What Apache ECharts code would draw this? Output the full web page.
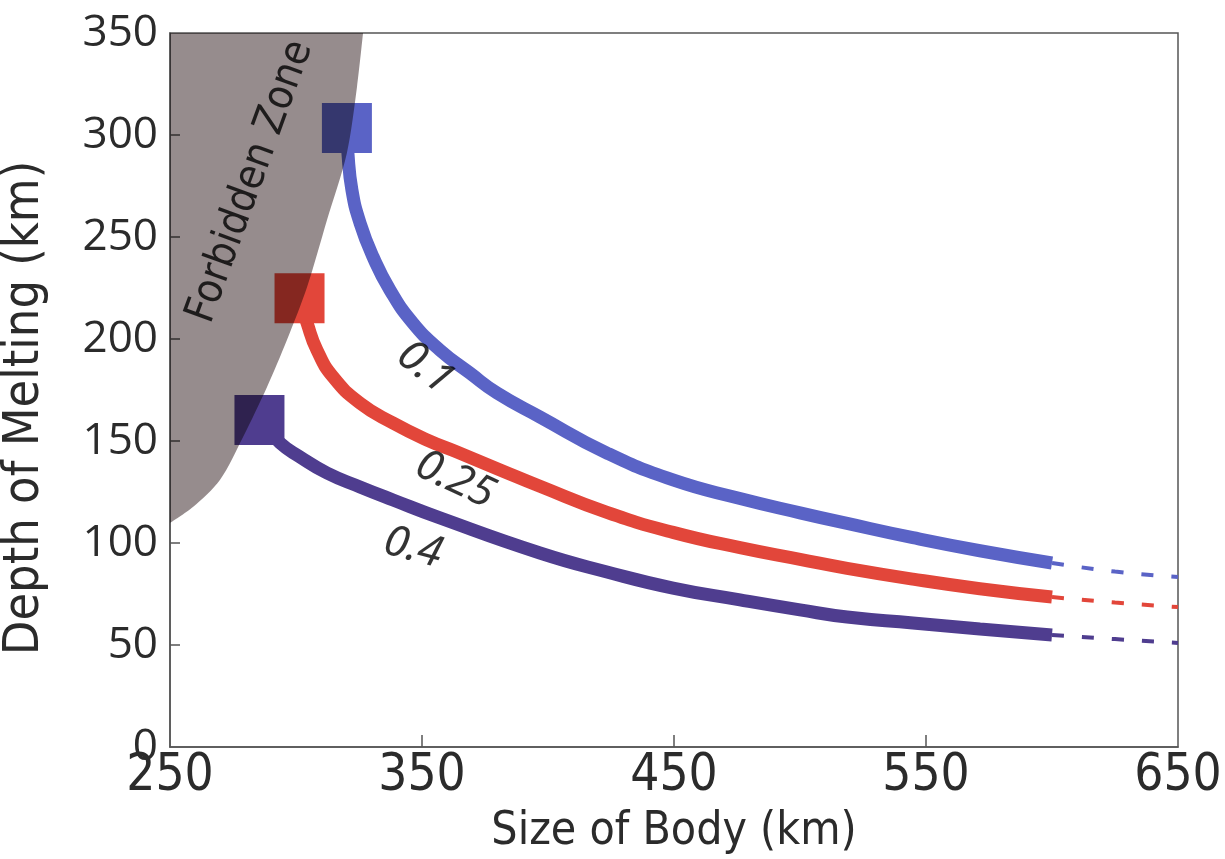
<!DOCTYPE html>
<html><head><meta charset="utf-8">
<script src="https://cdn.jsdelivr.net/npm/echarts@6/dist/echarts.min.js"></script>
<style>html,body{margin:0;padding:0;background:#fff}#c{width:1225px;height:859px}</style>
</head><body><div id="c"></div>
<script>
// ---- axis ticks / labels ----
const xTickLabels = [250, 350, 450, 550, 650];
const xTickMarks = [350, 450, 550];
const yTickLabels = [0, 50, 100, 150, 200, 250, 300, 350];
const yTickMarks = [50, 100, 150, 200, 250, 300];

// ---- forbidden zone boundary ----
const zoneX = [250, 259.1, 269.8, 279.0, 288.5, 296.4, 304.4, 312.3, 320.2, 324.2, 326.6];
const zoneY = [109.8, 117.6, 130.9, 152.0, 176.5, 199.5, 225.5, 258.3, 291.2, 323.5, 350];

// ---- curves (solid part) ----
const seriesNames = ['0.1', '0.25', '0.4'];
const blueX = [320.2, 320.6, 322.2, 325.4, 330.6, 337.3, 346.4, 357.1, 369.0, 379.8, 396.8, 423.4, 449.6, 476.2, 500, 518.7, 544.8, 571.4, 600];
const blueY = [303.4, 291.2, 273.0, 256.9, 240.2, 224.0, 207.8, 194.6, 183.3, 173.5, 161.8, 144.1, 130.9, 121.8, 114.8, 109.6, 102.6, 96.2, 90.2];
const redX = [301.4, 304.4, 308.3, 314.7, 325.4, 338.5, 352.0, 363.9, 381.0, 396.8, 423.4, 449.6, 476.2, 500, 518.7, 544.8, 571.4, 600];
const redY = [220, 207.8, 194.6, 181.4, 168.6, 158.8, 150.5, 144.6, 135.8, 127.8, 115.0, 105.2, 97.7, 92.0, 87.6, 82.3, 77.6, 73.5];
const purpleX = [285.5, 293.7, 301.6, 312.3, 325.4, 338.5, 357.1, 396.8, 423.4, 449.6, 476.2, 500, 518.7, 544.8, 571.4, 600];
const purpleY = [160.3, 149.0, 142.2, 134.3, 127.5, 121.1, 112.3, 95.1, 85.8, 77.9, 72.1, 67.2, 63.7, 60.8, 57.8, 54.9];

// ---- dashed extrapolation ----
const dashX = [600, 625, 650];
const blueDashY = [90.2, 86.0, 83.3];
const redDashY = [73.5, 70.8, 68.6];
const purpleDashY = [54.9, 52.9, 51.0];

// ---- start squares ----
const startX = [320.2, 301.4, 285.5];
const startY = [303.4, 220, 160.3];

// ---- annotations ----
const noteText = ['Forbidden Zone', '0.1', '0.25', '0.4'];
const noteX = [282.0, 351.2, 363.1, 346.4];
const noteY = [277, 185.8, 130.9, 97.5];
const noteAngle = [70, -38, -25, -15];

const colors = ['#5a63c6', '#e2463a', '#4f3d8f'];
const zoneColor = '#968c8d';
const axisColor = '#555';
const textColor = '#2b2b2b';
const narrow = '"Liberation Sans Narrow", "DejaVu Sans Condensed", sans-serif';
const cond = '"DejaVu Sans Condensed", "Liberation Sans Narrow", sans-serif';

const zip = (xs, ys) => xs.map((x, i) => [x, ys[i]]);
const solidX = [blueX, redX, purpleX];
const solidY = [blueY, redY, purpleY];
const dashYs = [blueDashY, redDashY, purpleDashY];

const series = [];
seriesNames.forEach((n, i) => {
  series.push({
    type: 'line', name: n, data: zip(solidX[i], solidY[i]), smooth: 0.5,
    symbol: 'none', lineStyle: { color: colors[i], width: 13, cap: 'butt', join: 'round' }, z: 2
  });
  series.push({
    type: 'line', name: n + ' ext', data: zip(dashX, dashYs[i]), smooth: true,
    symbol: 'none', lineStyle: { color: colors[i], width: 4, type: [12, 18], cap: 'butt' }, z: 2
  });
});
series.push({
  type: 'scatter', name: 'start', symbol: 'rect', symbolSize: 50,
  data: startX.map((x, i) => ({ value: [x, startY[i]], itemStyle: { color: colors[i], opacity: 1 } })),
  z: 3
});
series.push({
  type: 'line', name: 'Forbidden Zone', data: zip(zoneX, zoneY), smooth: 0.3,
  symbol: 'none', lineStyle: { width: 0 },
  areaStyle: { color: zoneColor, opacity: 1, origin: 'end' }, z: 4, silent: true,
  blendMode: 'multiply'
});
series.push({
  type: 'scatter', name: 'notes', symbolSize: 1, itemStyle: { color: 'rgba(0,0,0,0)' },
  data: noteText.map((t, i) => ({
    value: [noteX[i], noteY[i]],
    label: {
      show: true, position: 'inside', formatter: t, rotate: noteAngle[i],
      fontSize: i === 0 ? 42 : 43, color: '#000',
      fontStyle: i === 0 ? 'normal' : 'italic',
      fontFamily: i === 0 ? cond : '"Noto Sans", "Open Sans", sans-serif'
    }
  })),
  z: 5, silent: true
});

const chart = echarts.init(document.getElementById('c'), null, { renderer: 'canvas' });
chart.setOption({
  animation: false,
  backgroundColor: '#fff',
  grid: { left: 170, right: 47, top: 33, bottom: 112, containLabel: false, outerBoundsMode: 'none',
          show: true, borderColor: axisColor, borderWidth: 1.5, backgroundColor: 'transparent' },
  xAxis: {
    type: 'value', min: 250, max: 650,
    name: 'Size of Body (km)', nameLocation: 'middle', nameGap: 62,
    nameTextStyle: { fontSize: 46, fontFamily: cond, color: textColor },
    axisLine: { show: true, lineStyle: { color: axisColor, width: 1.5 } },
    axisTick: { show: true, inside: true, length: 12, customValues: xTickMarks, lineStyle: { color: axisColor, width: 1.5 } },
    axisLabel: { customValues: xTickLabels, fontSize: 51, fontFamily: narrow, color: textColor, margin: 4 },
    splitLine: { show: false }
  },
  yAxis: {
    type: 'value', min: 0, max: 350,
    name: 'Depth of Melting (km)', nameLocation: 'middle', nameGap: 120,
    nameTextStyle: { fontSize: 50, fontFamily: cond, color: textColor, padding: [0, 36, 0, 0] },
    axisLine: { show: true, lineStyle: { color: axisColor, width: 1.5 } },
    axisTick: { show: true, inside: true, length: 10, customValues: yTickMarks, lineStyle: { color: axisColor, width: 1.5 } },
    axisLabel: { customValues: yTickLabels, fontSize: 44, fontFamily: '"Open Sans", sans-serif', color: textColor, margin: 12 },
    splitLine: { show: false }
  },
  series: series
});
</script>
</body></html>
